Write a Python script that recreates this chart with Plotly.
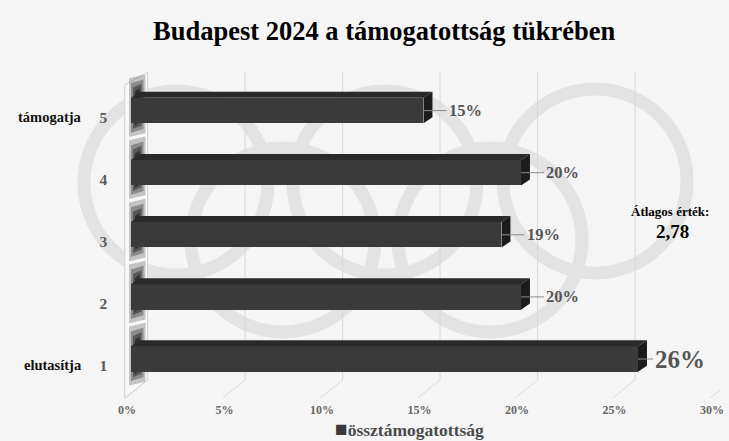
import plotly.graph_objects as go

# Support level (1 = rejects, 5 = supports) and share of respondents in %
categories = [1, 2, 3, 4, 5]
shares = [26, 20, 19, 20, 15]
series_name = "össztámogatottság"
scale_ends = {1: "elutasítja", 5: "támogatja"}
x_ticks = [0, 5, 10, 15, 20, 25, 30]
x_tick_text = [f"{t}%" for t in x_ticks]
title_text = "Budapest 2024 a támogatottság tükrében"
mean_label = "Átlagos érték:"

W, H = 729, 441
SERIF = "Liberation Serif"
BAR_COLOR = "#3a3a3a"

# weighted mean of the scale
mean_value = sum(c * s for c, s in zip(categories, shares)) / sum(shares)
mean_text = f"{mean_value:.2f}".replace(".", ",")

# pseudo-3D depth of the bars, in axis units
BAR_W = 0.41
DX = 0.46
DY = 0.097

fig = go.Figure()

# front faces
fig.add_trace(go.Bar(
    x=shares, y=categories, orientation="h", width=BAR_W,
    marker=dict(color=BAR_COLOR, line=dict(width=0)),
    name=series_name, showlegend=False, hoverinfo="skip",
))

# top faces
tx, ty = [], []
for c, v in zip(categories, shares):
    yt = c + BAR_W / 2
    tx += [0, v, v + DX, DX, 0, None]
    ty += [yt, yt, yt + DY, yt + DY, yt, None]
fig.add_trace(go.Scatter(x=tx, y=ty, mode="lines", fill="toself",
                         fillcolor="#2a2a2a", line=dict(width=0),
                         showlegend=False, hoverinfo="skip"))

# side faces
sx, sy = [], []
for c, v in zip(categories, shares):
    y0, y1 = c - BAR_W / 2, c + BAR_W / 2
    sx += [v, v + DX, v + DX, v, v, None]
    sy += [y0, y0 + DY, y1 + DY, y1, y0, None]
fig.add_trace(go.Scatter(x=sx, y=sy, mode="lines", fill="toself",
                         fillcolor="#1c1c1c", line=dict(width=0),
                         showlegend=False, hoverinfo="skip"))

shapes = []

# faint Olympic rings in the background (pixel layout converted to paper units)
rings = [(176, 183), (385, 183), (595, 181), (283, 240), (490, 240)]
R = 92
for cx, cy in rings:
    shapes.append(dict(type="circle", xref="paper", yref="paper",
                       x0=(cx - R) / W, x1=(cx + R) / W,
                       y0=1 - (cy + R) / H, y1=1 - (cy - R) / H,
                       line=dict(color="#e3e3e3", width=13), layer="below"))

# back wall gridlines and floor lines
BACK = 0.85
FRONT = -0.3
Y_FLOOR_FRONT, Y_FLOOR_BACK, Y_TOP = 0.372, 0.66, 5.62
for t in x_ticks:
    if t > 0:
        shapes.append(dict(type="line", xref="x", yref="y",
                           x0=t + BACK, x1=t + BACK, y0=Y_FLOOR_BACK, y1=Y_TOP,
                           line=dict(color="#d8d8d8", width=1), layer="below"))
    shapes.append(dict(type="line", xref="x", yref="y",
                       x0=t + FRONT, x1=t + BACK, y0=Y_FLOOR_FRONT, y1=Y_FLOOR_BACK,
                       line=dict(color="#d8d8d8", width=1), layer="below"))

# left side wall
shapes.append(dict(type="path", xref="x", yref="y",
                   path=(f"M {FRONT-0.02},{Y_FLOOR_FRONT} L {FRONT-0.02},5.41 "
                         f"L {BACK},{Y_TOP} L {BACK},{Y_FLOOR_BACK} Z"),
                   fillcolor="#f8f8f8", line=dict(color="#d0d0d0", width=1),
                   layer="below"))

# soft shadows of the bars on the wall (stacked translucent bands)
SH_CX = 0.32
for c in categories:
    lo = c - BAR_W / 2
    hi = c + BAR_W / 2 + DY
    for half, below, above, op in [(0.42, 0.22, 0.28, 0.22),
                                   (0.32, 0.15, 0.2, 0.3),
                                   (0.22, 0.09, 0.13, 0.4),
                                   (0.12, 0.04, 0.06, 0.5)]:
        x0, x1 = SH_CX - half, SH_CX + half
        p = (f"M {x0},{lo - below} L {x0},{hi + above - 0.06} "
             f"L {x1},{hi + above} L {x1},{lo - below + 0.06} Z")
        shapes.append(dict(type="path", xref="x", yref="y", path=p,
                           fillcolor=f"rgba(10,10,10,{op})", line=dict(width=0),
                           layer="below"))

annotations = []

# value labels with short leader lines
vmax = max(shares)
for c, v in zip(categories, shares):
    big = v == vmax
    annotations.append(dict(
        x=v, y=c, xref="x", yref="y", text=f"{v}%",
        showarrow=True, arrowhead=0, arrowwidth=1, arrowcolor="#8a8a8a",
        ax=15 if big else 23, ay=0, xanchor="left",
        font=dict(family=SERIF, size=25 if big else 16.5,
                  color="#555555", weight="bold"),
    ))

# scale end descriptions
for c, txt in scale_ends.items():
    annotations.append(dict(
        x=84 / W, y=c, xref="paper", yref="y", text=txt, showarrow=False,
        xanchor="right", yanchor="middle", yshift=-6,
        font=dict(family=SERIF, size=14.5, color="#111111", weight="bold"),
    ))

# title
annotations.append(dict(
    x=384 / W, y=1 - 31 / H, xref="paper", yref="paper", text=title_text,
    showarrow=False, xanchor="center", yanchor="middle",
    font=dict(family=SERIF, size=26.5, color="#000000", weight="bold"),
))

# mean value box
annotations.append(dict(
    x=670 / W, y=1 - 212 / H, xref="paper", yref="paper", text=mean_label,
    showarrow=False, xanchor="center", yanchor="middle",
    font=dict(family=SERIF, size=13, color="#000000", weight="bold"),
))
annotations.append(dict(
    x=672 / W, y=1 - 231 / H, xref="paper", yref="paper", text=mean_text,
    showarrow=False, xanchor="center", yanchor="middle",
    font=dict(family=SERIF, size=19, color="#000000", weight="bold"),
))

# series key below the axis
annotations.append(dict(
    x=333 / W, y=1 - 429 / H, xref="paper", yref="paper",
    text=(f"<span style='color:{BAR_COLOR};font-size:21px'>■</span>"
          f"{series_name}"),
    showarrow=False, xanchor="left", yanchor="middle",
    font=dict(family=SERIF, size=17.5, color="#4a4a4a", weight="bold"),
))

# axis placement: 0% at 131px, 19.5px per percent; category 1 at 359px, 62.1px per step
X_RANGE = [-0.6, 30.2]
x_dom = [(131 + 19.5 * X_RANGE[0]) / W, (131 + 19.5 * X_RANGE[1]) / W]
Y_RANGE = [0.372, 5.7]
y_px = [359 - 62.1 * (Y_RANGE[0] - 1), 359 - 62.1 * (Y_RANGE[1] - 1)]
y_dom = [1 - y_px[0] / H, 1 - y_px[1] / H]

fig.update_layout(
    width=W, height=H,
    margin=dict(l=0, r=0, t=0, b=0, autoexpand=False),
    paper_bgcolor="#f5f5f5", plot_bgcolor="rgba(0,0,0,0)",
    shapes=shapes, annotations=annotations,
    bargap=0,
    xaxis=dict(domain=x_dom, range=X_RANGE, tickvals=x_ticks, ticktext=x_tick_text,
               showgrid=False, zeroline=False, showline=False,
               ticks="outside", ticklen=1, tickcolor="rgba(0,0,0,0)",
               ticklabelshift=-4,
               tickfont=dict(family=SERIF, size=12, color="#666666", weight="bold"),
               fixedrange=True),
    yaxis=dict(domain=y_dom, range=Y_RANGE, tickvals=categories,
               ticktext=[str(c) for c in categories],
               showgrid=False, zeroline=False, showline=False,
               ticks="outside", ticklen=8, tickcolor="rgba(0,0,0,0)",
               ticklabelshift=7,
               tickfont=dict(family=SERIF, size=15.5, color="#5a5a5a", weight="bold"),
               fixedrange=True),
    showlegend=False,
)

fig.write_html("out.html")
